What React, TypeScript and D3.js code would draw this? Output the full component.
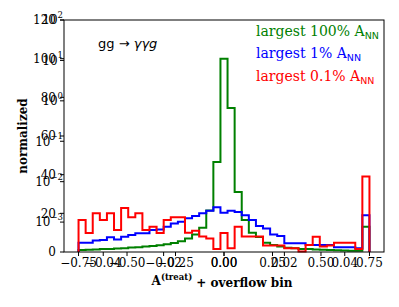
import React from "react";
import * as d3 from "d3";

// histogram binning: 41 bins, last one is the overflow bin
const binLo = -0.75;
const binHi = 0.75;
const nBins = 41;

const green100 = [
  1.0, 1.1, 1.3, 1.5, 1.6, 1.8, 2.0, 2.3, 2.5, 2.8, 3.1, 3.5, 4.0, 4.7, 5.6, 7.0,
  9.0, 12.5, 21.5, 46.5, 100, 74.5, 31, 16.5, 10, 7.8, 4.8, 3.6, 2.8, 2.2, 2.0, 1.6,
  1.5, 1.3, 1.1, 1.0, 0.9, 0.8, 0.7, 0.6, 13,
];
const blue1 = [
  4.8, 4.8, 6.0, 6.2, 7.6, 6.5, 7.9, 8.8, 9.7, 9.7, 11.4, 11.7, 13.1, 14.8, 15.7, 17.4,
  18.6, 20, 21.4, 23.1, 20.3, 21.4, 20.7, 19, 16.6, 13.4, 12.2, 9.1, 8.3, 4.5, 4.5, 4.5,
  3.6, 3.6, 3.6, 3.6, 2.4, 2.4, 2.4, 2.0, 19,
];
const red01 = [
  16.5, 9.8, 20, 16.5, 20, 11.4, 22.7, 18, 20, 11.4, 13, 9.8, 16.5, 18, 18, 10,
  11, 8, 7, 1.5, 9.8, 2, 13, 8, 8, 8, 3.3, 3.3, 3.3, 2, 2, 0.2,
  3.6, 7.9, 2.8, 3.3, 4.8, 4.8, 4.8, 1.5, 39,
];

const seriesLabels = ["largest 100%", "largest 1%", "largest 0.1%"];
const seriesColors = ["#008000", "#0000ff", "#ff0000"];
const seriesValues = [green100, blue1, red01];

const xTicks = [-0.75, -0.5, -0.25, 0, 0.25, 0.5, 0.75];
const xTicks2 = [-0.04, -0.02, 0, 0.02, 0.04];
const yTicks = [0, 20, 40, 60, 80, 100, 120];
const yLogExps = [-3, -2, -1, 0, 1, 2];

const W = 399;
const H = 307;
const left = 64, right = 384, top = 20, bottom = 252;
const serif = "'DejaVu Serif', serif";
const sans = "'DejaVu Sans', sans-serif";

const App = () => {
  const x = d3.scaleLinear().domain([-0.825, 0.825]).range([left, right]);
  const x2 = d3.scaleLinear().domain([-0.053, 0.053]).range([left, right]);
  const y = d3.scaleLinear().domain([0, 120]).range([bottom, top]);
  const yLog = d3.scaleLog().domain([Math.pow(10, -3.74), 100]).range([bottom, top]);

  const fmt2 = d3.format(".2f");
  const edges = d3.range(nBins + 1).map((i) => binLo + (i * (binHi - binLo)) / nBins);

  const line = d3
    .line<[number, number]>()
    .x((d) => x(d[0]))
    .y((d) => y(d[1]))
    .curve(d3.curveStepAfter);

  const stepPath = (vals: number[]) => {
    const pts: [number, number][] = [[edges[0], 0]];
    vals.forEach((v, i) => pts.push([edges[i], v]));
    pts.push([edges[nBins], 0]);
    return line(pts) || "";
  };

  return (
    <svg
      width={W}
      height={H}
      style={{ position: "absolute", left: 0, top: 0, background: "#fff" }}
    >
      <rect x={0} y={0} width={W} height={H} fill="#fff" />
      {/* histograms */}
      {seriesValues.map((vals, i) => (
        <path
          key={i}
          d={stepPath(vals)}
          fill="none"
          stroke={seriesColors[i]}
          strokeWidth={2}
          strokeLinejoin="miter"
        />
      ))}
      {/* frame */}
      <rect
        x={left}
        y={top}
        width={right - left}
        height={bottom - top}
        fill="none"
        stroke="#000"
        strokeWidth={1}
      />
      {/* x axis, linear */}
      {xTicks.map((t) => (
        <g key={"x" + t}>
          <line x1={x(t)} x2={x(t)} y1={bottom} y2={bottom + 4} stroke="#000" />
          <text x={x(t)} y={267} textAnchor="middle" fontFamily={serif} fontSize={12}>
            {fmt2(t)}
          </text>
        </g>
      ))}
      {/* x axis, second scale drawn on top */}
      {xTicks2.map((t) => (
        <g key={"x2" + t}>
          <line x1={x2(t)} x2={x2(t)} y1={bottom} y2={bottom + 4} stroke="#000" />
          <text x={x2(t)} y={267} textAnchor="middle" fontFamily={serif} fontSize={12}>
            {fmt2(t)}
          </text>
        </g>
      ))}
      {/* y axis, linear */}
      {yTicks.map((t) => (
        <g key={"y" + t}>
          <line x1={left - 4} x2={left} y1={y(t)} y2={y(t)} stroke="#000" />
          <text
            x={56}
            y={y(t)}
            dy="0.36em"
            textAnchor="end"
            fontFamily={serif}
            fontSize={12}
          >
            {t}
          </text>
        </g>
      ))}
      {/* y axis, log */}
      {yLogExps.map((e) => {
        const yy = yLog(Math.pow(10, e));
        return (
          <g key={"yl" + e}>
            <line x1={left - 4} x2={left} y1={yy} y2={yy} stroke="#000" />
            <text
              x={63}
              y={yy}
              dy="0.36em"
              textAnchor="end"
              fontFamily={serif}
              fontSize={12}
            >
              10
              <tspan fontSize={8.5} dy="-0.75em">
                {e < 0 ? "\u2212" + Math.abs(e) : String(e)}
              </tspan>
            </text>
          </g>
        );
      })}
      {/* axis labels */}
      <text
        transform="translate(27,136) rotate(-90)"
        textAnchor="middle"
        fontFamily={serif}
        fontWeight="bold"
        fontSize={12}
      >
        normalized
      </text>
      <text x={222} y={285} textAnchor="middle" fontFamily={serif} fontWeight="bold" fontSize={12}>
        A
        <tspan fontSize={8.5} dy="-0.6em">(treat)</tspan>
        <tspan dy="0.6em"> + overflow bin</tspan>
      </text>
      {/* process label */}
      <text x={98} y={48} fontFamily={sans} fontSize={13}>
        gg {"\u2192"} <tspan fontStyle="italic">{"\u03b3\u03b3"}g</tspan>
      </text>
      {/* legend texts */}
      {seriesLabels.map((lab, i) => (
        <text
          key={lab}
          x={256}
          y={35.5 + i * 22.5}
          fontFamily={serif}
          fontSize={14}
          fill={seriesColors[i]}
        >
          {lab} A
          <tspan fontFamily={sans} fontSize={9.5} dy="3">
            NN
          </tspan>
        </text>
      ))}
    </svg>
  );
};

export default App;
